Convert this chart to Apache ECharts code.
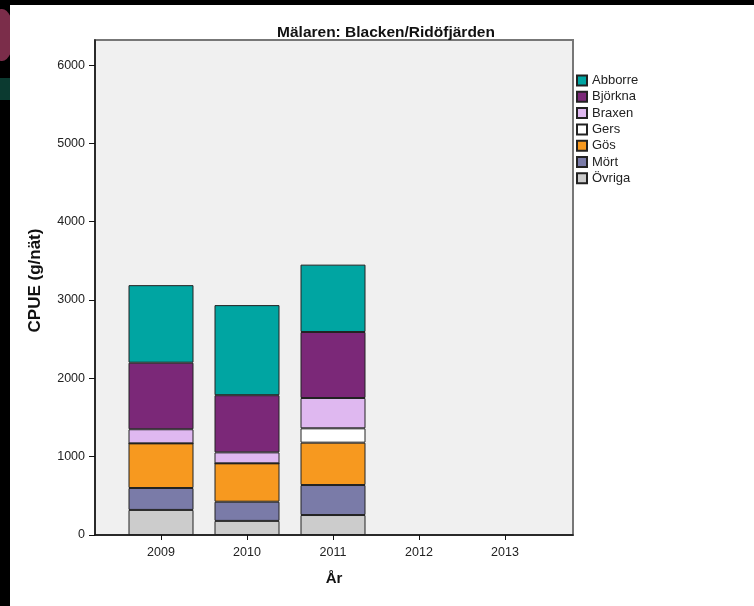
<!DOCTYPE html>
<html>
<head>
<meta charset="utf-8">
<script src="https://cdn.jsdelivr.net/npm/echarts@6/dist/echarts.min.js"></script>
<style>
html,body{margin:0;padding:0;background:#000;}
#chart{width:754px;height:606px;}
</style>
</head>
<body>
<div id="chart"></div>
<script>
var years = ['2009', '2010', '2011', '2012', '2013'];
var yTicks = [0, 1000, 2000, 3000, 4000, 5000, 6000];
var ovriga  = [320, 180, 255, null, null];
var mort    = [280, 245, 383, null, null];
var gos     = [570, 490, 541, null, null];
var gers    = [0, 0, 183, null, null];
var braxen  = [180, 140, 387, null, null];
var bjorkna = [850, 730, 843, null, null];
var abborre = [990, 1150, 860, null, null];

var legendOrder = ['Abborre', 'Björkna', 'Braxen', 'Gers', 'Gös', 'Mört', 'Övriga'];
var stackDefs = [
  {name: 'Övriga', vals: ovriga, color: '#CCCCCC'},
  {name: 'Mört', vals: mort, color: '#7A7BA8'},
  {name: 'Gös', vals: gos, color: '#F7991F'},
  {name: 'Gers', vals: gers, color: '#FFFFFF'},
  {name: 'Braxen', vals: braxen, color: '#DFB8F0'},
  {name: 'Björkna', vals: bjorkna, color: '#7B2878'},
  {name: 'Abborre', vals: abborre, color: '#00A5A2'}
];

var font = '"Liberation Sans", Arial, sans-serif';
var yMax = 6320;

var series = stackDefs.map(function (d) {
  return {
    name: d.name,
    type: 'bar',
    stack: 'total',
    xAxisIndex: 1,
    yAxisIndex: 1,
    barWidth: 65,
    itemStyle: {color: d.color, borderColor: '#222', borderWidth: 1},
    data: d.vals
  };
});

var chart = echarts.init(document.getElementById('chart'), null, {renderer: 'canvas'});
chart.setOption({
  backgroundColor: '#000',
  animation: false,
  textStyle: {fontFamily: font},
  graphic: [
    {type: 'ellipse', shape: {cx: 2, cy: 35, rx: 12, ry: 26}, style: {fill: '#7b2d4a'}, z: -10},
    {type: 'rect', shape: {x: 0, y: 78, width: 10, height: 22}, style: {fill: '#0b3a30'}, z: -10},
    {type: 'rect', shape: {x: 10, y: 5, width: 744, height: 601}, style: {fill: '#fff'}, z: -5}
  ],
  title: {
    text: 'Mälaren: Blacken/Ridöfjärden',
    left: 381,
    textAlign: 'center',
    top: 20,
    textStyle: {fontFamily: font, fontSize: 15.5, fontWeight: 'bold', color: '#111'}
  },
  legend: {
    orient: 'vertical',
    left: 576,
    top: 74,
    padding: 0,
    itemWidth: 10,
    itemHeight: 10,
    itemGap: 3.3,
    icon: 'rect',
    data: legendOrder,
    textStyle: {fontFamily: font, fontSize: 13, color: '#222'}
  },
  grid: [
    {left: 95, top: 40, width: 478, height: 495,
     show: true, backgroundColor: '#F0F0F0', borderColor: '#777', borderWidth: 2},
    {left: 118, top: 40, width: 430, height: 495, show: false}
  ],
  xAxis: [
    {
      type: 'value', gridIndex: 0, min: 0, max: 1,
      name: 'År', nameLocation: 'middle', nameGap: 36,
      nameTextStyle: {fontFamily: font, fontSize: 15, fontWeight: 'bold', color: '#111'},
      axisLine: {show: true, lineStyle: {color: '#111', width: 1.5}},
      axisTick: {show: false}, axisLabel: {show: false}, splitLine: {show: false}
    },
    {
      type: 'category', gridIndex: 1, data: years, boundaryGap: true,
      axisLine: {show: false},
      axisTick: {show: true, alignWithLabel: true, interval: 0, length: 5, lineStyle: {color: '#111'}},
      axisLabel: {interval: 0, margin: 11, fontSize: 12.5, color: '#222', fontFamily: font},
      splitLine: {show: false}
    }
  ],
  yAxis: [
    {
      type: 'value', gridIndex: 0, min: 0, max: yMax,
      name: 'CPUE (g/nät)', nameLocation: 'middle', nameGap: 51,
      nameTextStyle: {fontFamily: font, fontSize: 17, fontWeight: 'bold', color: '#111', padding: [0, 0, 0, 14]},
      axisLine: {show: true, lineStyle: {color: '#111', width: 1.5}},
      axisTick: {show: true, length: 6, customValues: yTicks, lineStyle: {color: '#111'}},
      axisLabel: {customValues: yTicks, margin: 10, fontSize: 12.5, color: '#222', fontFamily: font,
        formatter: function (v) { return String(v); }},
      splitLine: {show: false}
    },
    {type: 'value', gridIndex: 1, min: 0, max: yMax, show: false, splitLine: {show: false}}
  ],
  series: series
});
</script>
</body>
</html>
